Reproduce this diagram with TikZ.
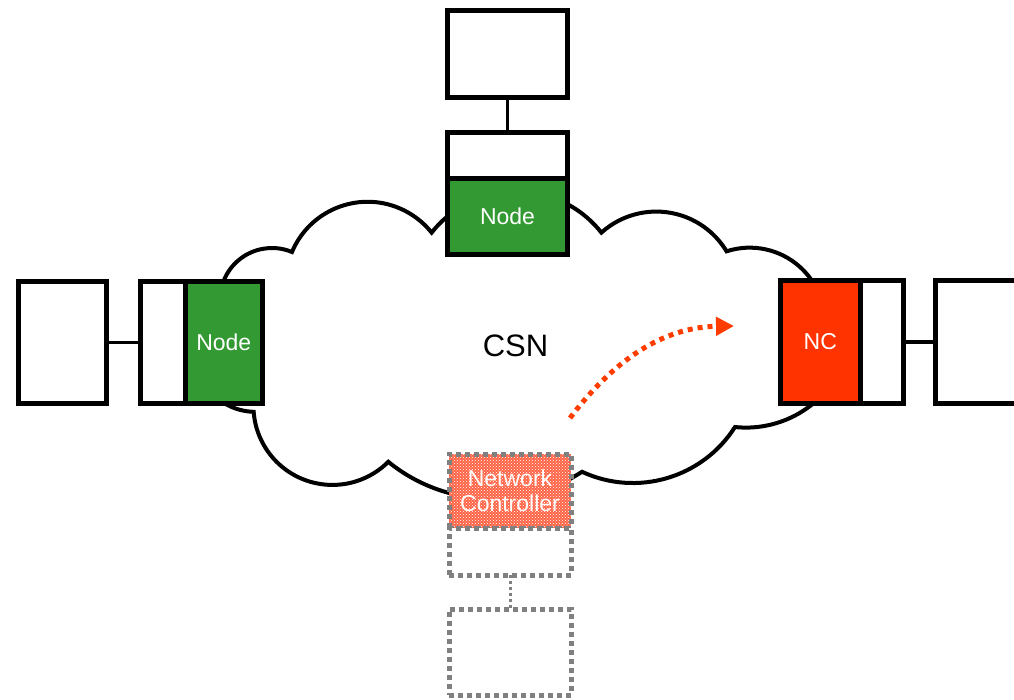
\documentclass[tikz,border=0pt]{standalone}
\usepackage{fontspec}
\setmainfont{Liberation Sans}
\usetikzlibrary{arrows.meta,patterns}
\definecolor{nodegreen}{RGB}{51,153,51}
\definecolor{ncred}{RGB}{255,51,0}
\definecolor{ncsalmon}{RGB}{255,100,70}
\definecolor{dotgray}{RGB}{128,128,128}
\definecolor{arrowred}{RGB}{255,60,0}
\begin{document}
\begin{tikzpicture}[x={(1pt,0)},y={(0,-1pt)},
  box/.style={draw=black,line width=5pt,fill=white,rectangle,inner sep=0pt,outer sep=0pt},
  greenbox/.style={box,fill=nodegreen,text=white},
  redbox/.style={box,fill=ncred,text=white},
  dotbox/.style={draw=dotgray,line width=5pt,dash pattern=on 5pt off 4pt,fill=white,rectangle,inner sep=0pt,outer sep=0pt},
  link/.style={draw=black,line width=3.5pt},
  dotlink/.style={draw=dotgray,line width=3pt,dash pattern=on 3pt off 3pt},
  cloudline/.style={draw=black,line width=4pt,fill=white,line join=miter},
  lbl/.style={font=\fontsize{23}{25}\selectfont},
  movearrow/.style={draw=arrowred,line width=5pt,dash pattern=on 5pt off 5pt,-{Triangle[length=18pt,width=18pt]}}
]
\useasboundingbox (0,0) rectangle (1014,699);
\clip (0,0) rectangle (1014,699);
\fill[white] (0,0) rectangle (1014,699);

% cloud
\path[cloudline] (220,300)
  arc[start angle=180, end angle=292.6, radius=52]
  arc[start angle=202.8, end angle=321.4, radius=82]
  arc[start angle=218.2, end angle=321.8, radius=108]
  arc[start angle=228, end angle=329, radius=82]
  arc[start angle=252, end angle=360, radius=75]
  -- (851.6,322)
  arc[start angle=0, end angle=96, radius=105.6]
  arc[start angle=32.5, end angle=114.9, radius=121]
  arc[start angle=56.7, end angle=129.2, radius=164]
  arc[start angle=45, end angle=175.7, radius=79]
  arc[start angle=92, end angle=180, radius=62]
  -- cycle;

\node[font=\fontsize{31}{33}\selectfont] (csn) at (515.5,345.5) {CSN};

% top group
\node[box,minimum width=120pt,minimum height=87pt] (ts) at (507.5,54) {};
\node[box,minimum width=120pt,minimum height=45.5pt] (ta) at (507.5,155.25) {};
\node[greenbox,lbl,minimum width=120pt,minimum height=76.5pt] (tn) at (507.5,216.25) {Node};
\draw[link] (ts.south) -- (ta.north);

% left group
\node[box,minimum width=88pt,minimum height=122pt] (ls) at (62.5,342.5) {};
\node[box,minimum width=44.5pt,minimum height=122pt] (la) at (162.75,342.5) {};
\node[greenbox,lbl,minimum width=77.5pt,minimum height=122pt] (ln) at (223.75,342.5) {Node};
\draw[link] (ls.east) -- (la.west);

% right group
\node[redbox,lbl,minimum width=79.5pt,minimum height=123pt] (nc) at (820.25,342) {NC};
\node[box,minimum width=43.5pt,minimum height=123pt] (ra) at (881.75,342) {};
\node[box,minimum width=95pt,minimum height=123pt] (rs) at (982.75,342) {};
\draw[link] (ra.east) -- (rs.west);

% bottom (former controller position)
\node[dotbox,preaction={fill=ncsalmon},pattern=crosshatch dots,pattern color=white,
      text=white,lbl,align=center,minimum width=122pt,minimum height=74pt] (bnc) at (510,491) {Network\\Controller};
\node[dotbox,minimum width=122pt,minimum height=47pt] (ba) at (510,551.5) {};
\node[dotbox,minimum width=122pt,minimum height=86pt] (bs) at (510,652) {};
\draw[dotlink] (ba.south) -- (bs.north);

% move arrow
\coordinate (arS) at (570,418);
\coordinate (arE) at (734,326);
\draw[movearrow] (arS) .. controls (620,352) and (670,327) .. (arE);
\end{tikzpicture}
\end{document}
